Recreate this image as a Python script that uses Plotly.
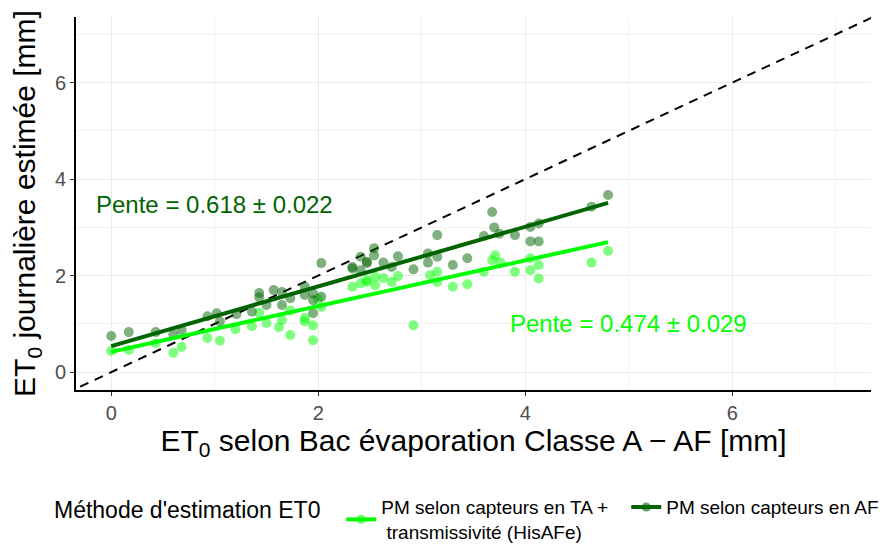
import numpy as np
import plotly.graph_objects as go

# ET0 daily values (mm): pan evaporation (x) vs estimated (y)
af_x = [0.0, 0.17, 0.43, 0.60, 0.68, 0.93, 1.02, 1.05, 1.21, 1.36, 1.43, 1.43, 1.50, 1.57,
        1.65, 1.65, 1.73, 1.87, 1.87, 1.95, 1.95, 1.95, 2.03, 2.03, 2.33, 2.33, 2.41, 2.41,
        2.47, 2.47, 2.54, 2.54, 2.63, 2.71, 2.77, 2.92, 3.06, 3.06, 3.15, 3.15, 3.30, 3.44,
        3.60, 3.68, 3.70, 3.75, 3.90, 4.05, 4.13, 4.05, 4.13, 4.64, 4.80]
af_y = [0.75, 0.83, 0.83, 0.78, 0.87, 1.16, 1.22, 1.05, 1.20, 1.25, 1.64, 1.55, 1.39, 1.70,
        1.66, 1.39, 1.53, 1.77, 1.60, 1.63, 1.49, 1.22, 1.56, 2.26, 2.18, 2.15, 2.11, 2.39,
        2.29, 2.26, 2.57, 2.42, 2.27, 2.18, 2.40, 2.13, 2.46, 2.27, 2.84, 2.39, 2.22, 2.36,
        2.82, 3.32, 3.00, 2.87, 2.84, 3.01, 3.08, 2.71, 2.71, 3.43, 3.67]

ta_x = [0.0, 0.17, 0.43, 0.60, 0.68, 0.93, 1.05, 1.20, 1.36, 1.43, 1.50, 1.62, 1.65, 1.73,
        1.73, 1.87, 1.87, 1.95, 1.95, 2.03, 2.00, 2.33, 2.41, 2.47, 2.47, 2.55, 2.55, 2.63,
        2.71, 2.77, 2.92, 3.08, 3.15, 3.15, 3.30, 3.44, 3.60, 3.68, 3.71, 3.76, 3.90, 4.05,
        4.05, 4.13, 4.13, 4.64, 4.80]
ta_y = [0.44, 0.46, 0.60, 0.40, 0.52, 0.71, 0.65, 0.89, 0.95, 1.23, 1.02, 0.93, 1.08, 0.77,
        1.28, 1.12, 1.05, 0.97, 0.66, 1.35, 1.52, 1.77, 1.84, 1.91, 1.87, 1.98, 1.80, 1.95,
        1.87, 1.99, 0.97, 2.01, 2.08, 1.87, 1.77, 1.82, 2.08, 2.32, 2.42, 2.27, 2.08, 2.36,
        2.11, 2.22, 1.94, 2.27, 2.51]

# fitted lines (intercept, slope)
af_fit = (0.54, 0.618)
ta_fit = (0.42, 0.474)

dark = "#006400"
lime = "#00FF00"
font = "Liberation Sans, Arial, sans-serif"

fig = go.Figure()

# 1:1 line
fig.add_trace(go.Scatter(x=[-1, 8], y=[-1, 8], mode="lines",
                         line=dict(color="black", width=2, dash="9px,7px"),
                         showlegend=False, hoverinfo="skip"))

fig.add_trace(go.Scatter(x=ta_x, y=ta_y, mode="markers",
                         marker=dict(color=lime, size=10, opacity=0.5),
                         showlegend=False))
fig.add_trace(go.Scatter(x=af_x, y=af_y, mode="markers",
                         marker=dict(color=dark, size=10, opacity=0.5),
                         showlegend=False))

for (b0, b1), xs, col in [(ta_fit, ta_x, lime), (af_fit, af_x, dark)]:
    lx = np.array([min(xs), max(xs)])
    fig.add_trace(go.Scatter(x=lx, y=b0 + b1 * lx, mode="lines",
                             line=dict(color=col, width=4), showlegend=False))

# legend entries
fig.add_trace(go.Scatter(x=[None], y=[None], mode="lines+markers",
                         name="PM selon capteurs en TA +<br> transmissivité (HisAFe)",
                         line=dict(color=lime, width=4),
                         marker=dict(color=lime, size=9, opacity=0.6)))
fig.add_trace(go.Scatter(x=[None], y=[None], mode="lines+markers",
                         name="PM selon capteurs en AF",
                         line=dict(color=dark, width=4),
                         marker=dict(color=dark, size=9, opacity=0.6)))

fig.add_annotation(x=1.0, y=3.48, text="Pente = 0.618 \u00b1 0.022", showarrow=False,
                   font=dict(color=dark, size=24, family=font))
fig.add_annotation(x=5.0, y=1.0, text="Pente = 0.474 \u00b1 0.029", showarrow=False,
                   font=dict(color=lime, size=24, family=font))

axis_common = dict(
    showgrid=True, gridcolor="#EBEBEB", gridwidth=1.2,
    minor=dict(dtick=1, showgrid=True, gridcolor="#F2F2F2", gridwidth=0.8),
    dtick=2, tick0=0, zeroline=False, automargin=False,
    showline=True, linecolor="black", linewidth=2,
    ticks="outside", ticklen=4, tickcolor="#333333",
    tickfont=dict(size=20, color="#4D4D4D", family=font),
)

fig.update_xaxes(range=[-0.34, 7.34],
                 title=dict(text="ET<sub>0</sub> selon Bac évaporation Classe A \u2212 AF [mm]",
                            font=dict(size=30, color="black", family=font), standoff=4),
                 **axis_common)
fig.update_yaxes(range=[-0.37, 7.36],
                 title=dict(text="ET<sub>0</sub> journalière estimée [mm]",
                            font=dict(size=30, color="black", family=font), standoff=10),
                 **axis_common)

fig.update_layout(
    width=896, height=547,
    margin=dict(l=76, r=25, t=17, b=157),
    plot_bgcolor="white", paper_bgcolor="white",
    font=dict(family=font),
    legend=dict(orientation="h", xref="container", yref="container",
                x=0.058, y=0.05, xanchor="left", yanchor="middle",
                title=dict(text="Méthode d'estimation ET0\u00a0\u00a0", side="left",
                           font=dict(size=23, color="black", family=font)),
                font=dict(size=19, color="black", family=font),
                itemwidth=30, entrywidth=240),
)

fig.write_html("out.html", config={"displayModeBar": False},
               post_script="document.body.style.margin='0';")
